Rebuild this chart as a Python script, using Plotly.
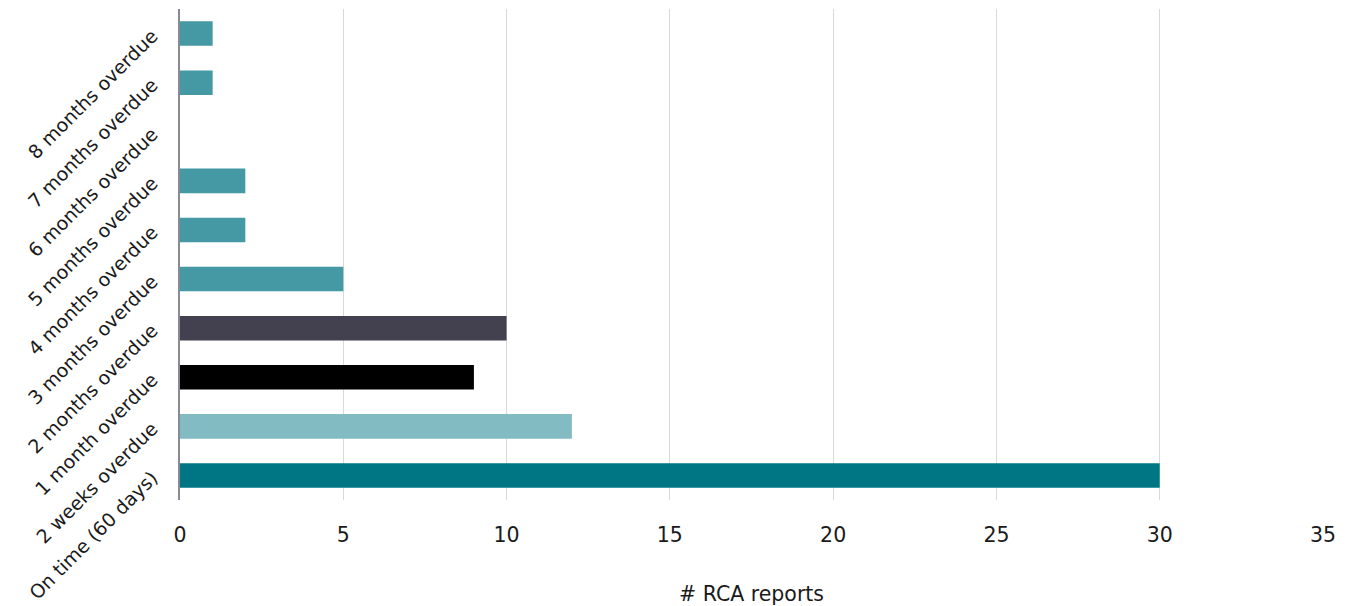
import plotly.graph_objects as go

categories = ["On time (60 days)", "2 weeks overdue", "1 month overdue", "2 months overdue",
              "3 months overdue", "4 months overdue", "5 months overdue", "6 months overdue",
              "7 months overdue", "8 months overdue"]
values = [30, 12, 9, 10, 5, 2, 2, 0, 1, 1]
colors = ["#007684", "#82BBC2", "#000000", "#434150", "#4599A5", "#4599A5", "#4599A5",
          "#4599A5", "#4599A5", "#4599A5"]
x_ticks = [0, 5, 10, 15, 20, 25, 30, 35]

FONT = "DejaVu Sans"
FS = 20.5

fig = go.Figure(go.Bar(
    x=values, y=categories, orientation="h",
    marker=dict(color=colors, line=dict(width=0)),
    width=0.5,
))

# page body has an 8px margin, so the figure is offset by 8px
fig.update_layout(
    width=1343, height=598,
    margin=dict(l=172, r=28, t=1, b=106, autoexpand=False),
    paper_bgcolor="white", plot_bgcolor="white",
    font=dict(family=FONT, size=FS, color="#1a1a1a"),
    showlegend=False,
)
fig.update_xaxes(
    range=[0, 35], tickvals=x_ticks, showgrid=True, gridcolor="#d9d9d9", gridwidth=1,
    zeroline=False, showline=False, ticks="", ticklabelstandoff=20,
    title=dict(text="# RCA reports", standoff=42, font=dict(size=FS)),
    tickfont=dict(size=FS), automargin=False,
)
fig.update_yaxes(
    categoryorder="array", categoryarray=categories,
    range=[-0.5, 9.5],
    showline=True, linecolor="#8a8a96", linewidth=2,
    tickangle=-45, ticks="", ticklabelstandoff=22, tickfont=dict(size=19),
    showgrid=False, automargin=False,
)

fig.write_html("out.html")
